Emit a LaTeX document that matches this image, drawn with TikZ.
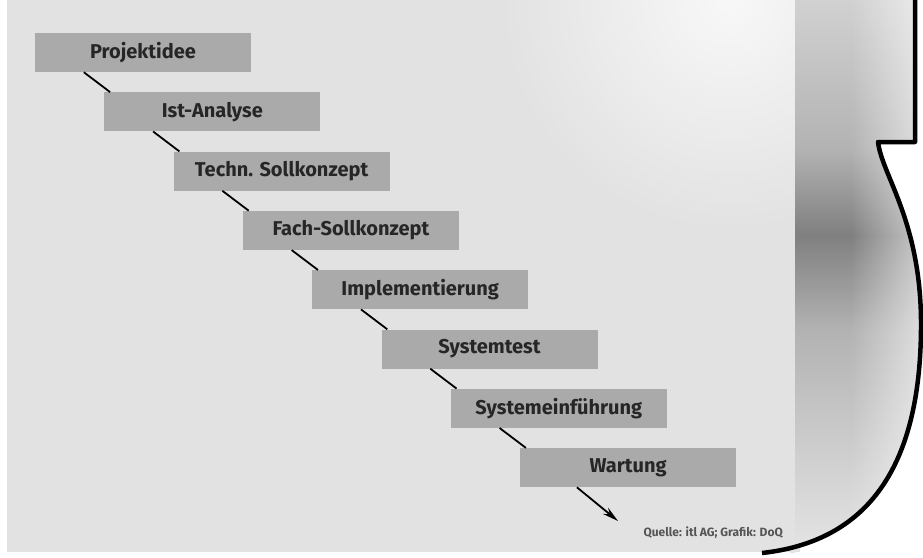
\documentclass[tikz,border=0pt]{standalone}
\usepackage{fontspec}
\setmainfont{Fira Sans}
\usetikzlibrary{arrows.meta,fadings}
\definecolor{panelgray}{RGB}{226,226,226}
\definecolor{boxgray}{RGB}{170,170,170}
\definecolor{txtgray}{RGB}{38,38,38}
\definecolor{capgray}{RGB}{85,85,85}
\tikzset{
  stage/.style={fill=boxgray, minimum width=216pt, minimum height=39pt, inner sep=0pt,
    text=txtgray, font=\fontsize{20}{22}\selectfont\bfseries},
  link/.style={black, line width=1.8pt},
  curlline/.style={black, line width=4.5pt, line join=round},
}
\begin{document}
\begin{tikzpicture}[x=1pt,y=-1pt]
\useasboundingbox (0,0) rectangle (923,557);
\fill[white] (0,0) rectangle (923,557);
% panel
\fill[panelgray] (7,0) rectangle (800,552);
\begin{scope}
\clip (7,0) rectangle (795,552);
\shade[inner color=white!75!panelgray, outer color=panelgray] (730,0) circle [radius=230pt];
\end{scope}
% curl
\begin{scope}
\clip (795,0) -- (915,0) -- (915,142) -- (878,142)
  .. controls (882,175) and (920,220) .. (921,320)
  .. controls (922,450) and (880,540) .. (765,553) -- (795,553) -- cycle;
\shade[top color=black!18, bottom color=black!30] (790,0) rectangle (925,150);
\shade[top color=black!30, bottom color=black!50] (790,150) rectangle (925,235);
\shade[top color=black!50, bottom color=black!30] (790,235) rectangle (925,330);
\shade[top color=black!30, bottom color=black!10] (790,330) rectangle (925,557);
\fill[white, opacity=0.6, path fading=west] (850,0) rectangle (925,557);
\end{scope}
\draw[curlline] (915,-3) -- (915,142) -- (878,142)
  .. controls (882,175) and (920,220) .. (921,320)
  .. controls (922,450) and (880,540) .. (762,553);
% stages
\foreach \i/\name/\txt in {0/b0/Projektidee,1/b1/Ist-Analyse,2/b2/Techn. Sollkonzept,3/b3/Fach-Sollkonzept,4/b4/Implementierung,5/b5/Systemtest,6/b6/Systemeinführung,7/b7/Wartung}{
  \node[stage] (\name) at ({35+69.3*\i+108},{33+59.3*\i+19.5}) {\txt};
}
\foreach \a/\b in {b0/b1,b1/b2,b2/b3,b3/b4,b4/b5,b5/b6,b6/b7}{
  \draw[link] ([xshift=49pt]\a.south west) -- ([xshift=6pt]\b.north west);
}
\coordinate (arrowend) at (618,521);
\draw[link, -{Stealth[length=16pt,width=8pt]}] ([xshift=57pt]b7.south west) -- (arrowend);
\node[anchor=east, text=capgray, font=\fontsize{12}{14}\selectfont\bfseries, inner sep=0pt] (src) at (783,533) {Quelle: itl AG; Grafik: DoQ};
\end{tikzpicture}
\end{document}
